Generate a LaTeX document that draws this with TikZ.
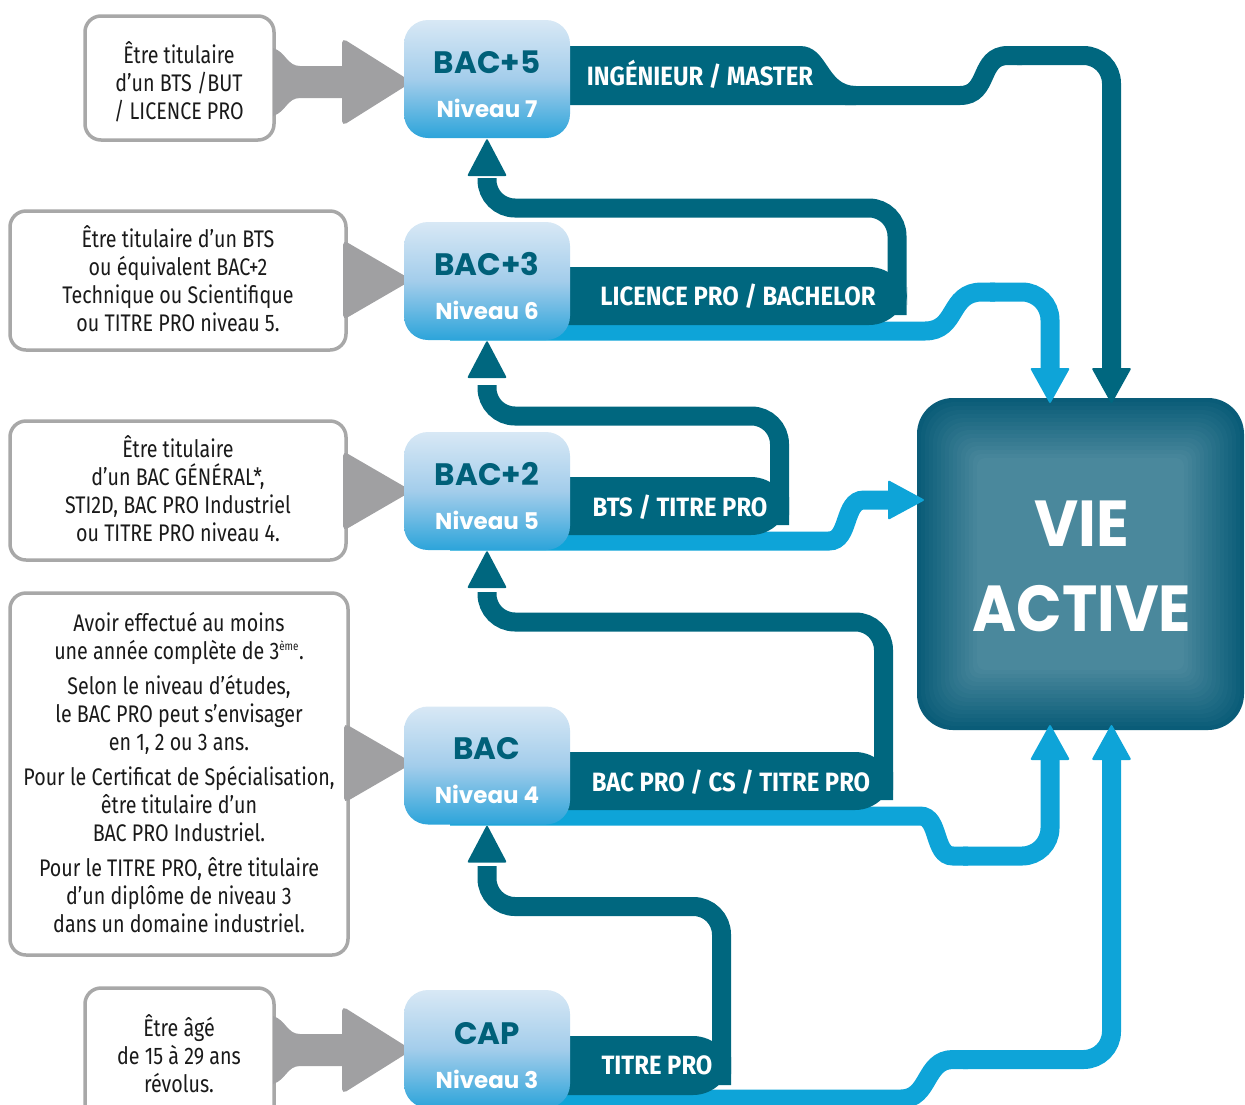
\documentclass[tikz,border=0pt]{standalone}
\usepackage{fontspec}
\setmainfont{Fira Sans}[FakeStretch=0.82]
\newfontfamily\geo{Poppins}
\newfontfamily\cond{Fira Sans}[FakeStretch=0.9]
\definecolor{cDark}{HTML}{00677F}
\definecolor{cLight}{HTML}{0EA4D8}
\definecolor{cGray}{HTML}{A0A0A2}
\definecolor{cBorder}{HTML}{A8A8A8}
\definecolor{cBoxTop}{HTML}{D8E8F5}
\definecolor{cBoxMid}{HTML}{A3CDEB}
\definecolor{cBoxBot}{HTML}{2CA4DA}
\definecolor{cTitle}{HTML}{006079}
\definecolor{cVieOut}{HTML}{0A5C78}
\definecolor{cVieIn}{HTML}{4A889C}
\definecolor{cText}{HTML}{1A1A1A}
\begin{document}
\begin{tikzpicture}[x=1pt,y=-1pt,
  lbox/.style={draw=cBorder, line width=3.5pt, fill=white, rounded corners=16pt, inner sep=0},
  ltext/.style={align=center, font=\fontsize{24}{28}\selectfont, text=cText, inner sep=0},
  lvl/.style={rounded corners=24pt, top color=cBoxTop, bottom color=cBoxBot, middle color=cBoxMid,
              minimum width=166pt, minimum height=118pt, inner sep=0},
  ttl/.style={font=\geo\bfseries\fontsize{31}{31}\selectfont, text=cTitle, inner sep=0, anchor=base},
  niv/.style={font=\geo\bfseries\fontsize{23}{23}\selectfont, text=white, inner sep=0, anchor=base},
  lab/.style={font=\cond\bfseries\fontsize{26.5}{26.5}\selectfont, text=white, inner sep=0, anchor=base},
  vietext/.style={font=\geo\bfseries\fontsize{65}{65}\selectfont, text=white, inner sep=0, anchor=base},
  dk/.style={draw=cDark, line width=19pt, rounded corners=28pt},
  dkp/.style={draw=cDark, line width=19pt},
  lt/.style={draw=cLight, line width=19pt, rounded corners=28pt},
  ltp/.style={draw=cLight, line width=19pt},
  garrow/.style={fill=cGray, rounded corners=5pt}
]
\path[use as bounding box] (0,0) rectangle (1245,1104);
\clip (0,0) rectangle (1245,1104);

% ---------- requirement boxes ----------
\node[lbox, minimum width=189pt, minimum height=124pt] (r5) at (179.5,78) {};
\node[lbox, minimum width=336pt, minimum height=139pt] (r3) at (178,280.5) {};
\node[lbox, minimum width=336pt, minimum height=139pt] (r2) at (178,490.5) {};
\node[lbox, minimum width=338pt, minimum height=362pt] (r4) at (179,774) {};
\node[lbox, minimum width=189pt, minimum height=136pt] (rc) at (179.5,1056) {};

\node[ltext] (t5) at (179,82) {Être titulaire\\d’un BTS /BUT\\/ LICENCE PRO};
\node[ltext] (t3) at (178,279) {Être titulaire d’un BTS\\ou équivalent BAC+2\\Technique ou Scientifique\\ou TITRE PRO niveau 5.};
\node[ltext] (t2) at (178,489) {Être titulaire\\d’un BAC GÉNÉRAL*,\\STI2D, BAC PRO Industriel\\ou TITRE PRO niveau 4.};
\node[ltext] (t4) at (179,773) {Avoir effectué au moins\\une année complète de 3\textsuperscript{\fontsize{12}{12}\selectfont ème}.\\[7pt]
Selon le niveau d’études,\\le BAC PRO peut s’envisager\\en 1, 2 ou 3 ans.\\[7pt]
Pour le Certificat de Spécialisation,\\être titulaire d’un\\BAC PRO Industriel.\\[7pt]
Pour le TITRE PRO, être titulaire\\d’un diplôme de niveau 3\\dans un domaine industriel.};
\node[ltext] (tc) at (179,1054) {Être âgé\\de 15 à 29 ans\\révolus.};

% ---------- grey arrows ----------
\fill[cGray] (273,48) .. controls (286,52) and (287,66) .. (300,66) -- (342,66)
  [rounded corners=5pt] -- (342,38) -- (412,82) -- (342,126) [sharp corners] -- (342,98) -- (300,98)
  .. controls (287,98) and (286,112) .. (273,116) -- cycle;
\fill[cGray] (273,1016) .. controls (286,1020) and (287,1034) .. (300,1034) -- (342,1034)
  [rounded corners=5pt] -- (342,1006) -- (412,1050) -- (342,1094) [sharp corners] -- (342,1066) -- (300,1066)
  .. controls (287,1066) and (286,1080) .. (273,1084) -- cycle;
\fill[garrow] (343,240) -- (412,280) -- (343,320) -- cycle;
\fill[garrow] (343,451) -- (412,491) -- (343,531) -- cycle;
\fill[garrow] (344,723) -- (413,763) -- (344,803) -- cycle;

% ---------- VIE ACTIVE ----------
\node[minimum width=327pt, minimum height=332pt, inner sep=0] (vie) at (1080.5,564) {};
\foreach \i in {0,...,15}{
  \pgfmathsetmacro\pct{\i*100/15}
  \pgfmathsetmacro\rr{max(36-2*\i,8)}
  \fill[cVieIn!\pct!cVieOut, rounded corners=\rr pt] (917+4*\i,398+4*\i) rectangle (1244-4*\i,730-4*\i);
}
\node[vietext] (vieA) at (1082,546) {\scalebox{0.93}[1]{VIE}};
\node[vietext] (vieB) at (1082,631) {\scalebox{0.92}[1]{ACTIVE}};

% ---------- light blue routes ----------
% BAC+3
\draw[ltp] (450,331) -- (925,331) .. controls (958,331) and (948,292) .. (982,292) -- (995,292);
\draw[lt] (990,292) -- (1050,292) -- (1050,370);
\fill[cLight, rounded corners=2pt] (1030,368) -- (1070,368) -- (1050,404) -- cycle;
% BAC+2
\draw[ltp] (450,541) -- (829,541) .. controls (850,541) and (843,500) .. (864,500) -- (892,500);
\fill[cLight, rounded corners=2pt] (888,480) -- (888,520) -- (925,500) -- cycle;
% BAC
\draw[ltp] (450,816) -- (920,816) .. controls (940,816) and (933,856) .. (953,856) -- (968,856);
\draw[lt] (963,856) -- (1050,856) -- (1050,758);
\fill[cLight, rounded corners=2pt] (1030,760) -- (1070,760) -- (1050,724) -- cycle;
% CAP
\draw[ltp] (450,1099) -- (901,1099) .. controls (930,1099) and (924,1059.5) .. (953,1059.5) -- (968,1059.5);
\draw[lt] (963,1059.5) -- (1111.5,1059.5) -- (1111.5,758);
\fill[cLight, rounded corners=2pt] (1091.5,760) -- (1131.5,760) -- (1111.5,724) -- cycle;

% ---------- dark routes ----------
% BAC+5
\fill[cDark] (480,46) -- (800,46) .. controls (828,46) and (826,86) .. (856,86) -- (856,105) -- (480,105) -- cycle;
\draw[dkp] (845,95.5) -- (960,95.5) .. controls (990,95.5) and (978,55.5) .. (1008,55.5) -- (1022,55.5);
\draw[dk] (1017,55.5) -- (1111.5,55.5) -- (1111.5,370);
\fill[cDark, rounded corners=2pt] (1091.5,368) -- (1131.5,368) -- (1111.5,404) -- cycle;
% BAC+3
\fill[cDark, rounded corners=38pt] (480,267) rectangle (907,325);
\draw[dk] (897,315) -- (897,208) -- (487,208) -- (487,178);
% BAC+2
\fill[cDark, rounded corners=38pt] (480,477) rectangle (789,535);
\draw[dk] (779.5,525) -- (779.5,416) -- (487,416) -- (487,385);
% BAC
\fill[cDark, rounded corners=38pt] (480,752) rectangle (893,810);
\draw[dk] (883.5,800) -- (883.5,622) -- (487,622) -- (487,592);
% CAP
\fill[cDark, rounded corners=38pt] (480,1036) rectangle (731,1095);
\draw[dk] (721.5,1085) -- (721.5,906.5) -- (487,906.5) -- (487,866);

% ---------- level boxes ----------
\node[lvl] (bac5) at (487,79) {};
\node[lvl] (bac3) at (487,281) {};
\node[lvl] (bac2) at (487,491) {};
\node[lvl] (bac) at (487,765.5) {};
\node[lvl] (cap) at (487,1049) {};

% up arrowheads (tips on box bottoms)
\fill[cDark, rounded corners=2pt] (bac5.south) -- ++(-20,38) -- ++(40,0) -- cycle;
\fill[cDark, rounded corners=2pt] (bac3.south) -- ++(-20,38) -- ++(40,0) -- cycle;
\fill[cDark, rounded corners=2pt] (bac2.south) -- ++(-20,38) -- ++(40,0) -- cycle;
\fill[cDark, rounded corners=2pt] (bac.south) -- ++(-20,38) -- ++(40,0) -- cycle;

\node[ttl] (bac5t) at (487,73) {BAC+5};
\node[niv] (bac5n) at (487,117) {Niveau 7};
\node[ttl] (bac3t) at (487,275) {BAC+3};
\node[niv] (bac3n) at (487,319) {Niveau 6};
\node[ttl] (bac2t) at (487,485) {BAC+2};
\node[niv] (bac2n) at (487,529) {Niveau 5};
\node[ttl] (bact) at (487,759) {BAC};
\node[niv] (bacn) at (487,803) {Niveau 4};
\node[ttl] (capt) at (487,1044) {CAP};
\node[niv] (capn) at (487,1088) {Niveau 3};

% ---------- route labels ----------
\node[lab] (l5) at (700,85) {INGÉNIEUR / MASTER};
\node[lab] (l3) at (738,305) {LICENCE PRO / BACHELOR};
\node[lab] (l2) at (680,516) {BTS / TITRE PRO};
\node[lab] (l4) at (731,791) {BAC PRO / CS / TITRE PRO};
\node[lab] (lc) at (657,1074) {TITRE PRO};
\end{tikzpicture}
\end{document}
